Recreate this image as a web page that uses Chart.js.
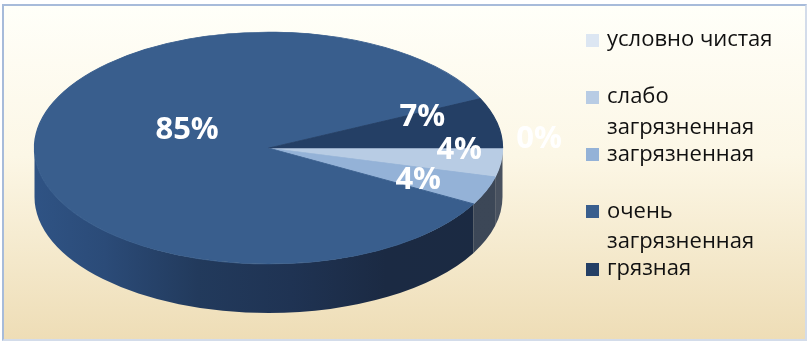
<!DOCTYPE html>
<html>
<head>
<meta charset="utf-8">
<script src="https://cdn.jsdelivr.net/npm/chart.js@4.4.0/dist/chart.umd.min.js"></script>
<style>
  body { margin: 0; background: #fff; width: 808px; height: 343px; overflow: hidden; }
  #frame {
    position: absolute; left: 2px; top: 4px; width: 801px; height: 333px;
    border-top: 2px solid #A7BBDA; border-left: 2px solid #A7BBDA;
    border-right: 2px solid #D3DCEA; border-bottom: 2px solid #D3DCEA;
    background: linear-gradient(to bottom, #FFFFF9 0%, #FCF7E6 45%, #EEDDB6 100%);
  }
  #chart { position: absolute; left: 0; top: 0; }
  #legend { position: absolute; left: 586px; top: 33.5px; font-family: 'Open Sans', sans-serif; font-size: 22px; color: #111; }
  .item { position: relative; height: 57.3px; }
  .box { position: absolute; left: 0; top: 0; width: 13px; height: 13px; }
  .txt { position: absolute; left: 21px; top: -11.5px; line-height: 30.6px; white-space: nowrap; }
</style>
</head>
<body>
<div id="frame"></div>
<canvas id="chart" width="808" height="343"></canvas>
<div id="legend"></div>
<script>
// ========================== DATA ==============================
const categories = ['условно чистая', 'слабо загрязненная', 'загрязненная', 'очень загрязненная', 'грязная'];
const legendLines = [['условно чистая'], ['слабо', 'загрязненная'], ['загрязненная'], ['очень', 'загрязненная'], ['грязная']];
const values = [0, 4, 4, 85, 7];

// ========================== STYLE =============================
const topColors = ['#DCE6F2', '#B8CCE4', '#94B2D7', '#395E8D', '#243F65'];
const sideStops = [
  [[0, '#4A5564'], [1, '#4A5564']],
  [[0, '#46505F'], [1, '#48515F']],
  [[0, '#3A4555'], [1, '#3C4757']],
  [[0, '#2F5384'], [0.15, '#2B4B78'], [0.35, '#223A5C'], [0.55, '#1F3353'], [0.75, '#1B2A43'], [1, '#1B2A42']],
  [[0, '#1B2B44'], [1, '#1B2B44']]
];
// angle nudge (deg) and radius fraction for each percent label
const labelPlace = [[-4.7, 1.16], [-7.2, 0.815], [0.4, 0.69], [24.5, 0.388], [-10.8, 0.716]];
const PIE = { cx: 268.5, cy: 148, rx: 234, ry: 116, depth: 49 };

// ========================== 3D PIE PLUGIN =====================
const pie3d = {
  id: 'pie3d',
  beforeDatasetsDraw(chart) {
    const ctx = chart.ctx;
    const arcs = chart.getDatasetMeta(0).data;
    const a0 = arcs[0];
    const sx = PIE.rx / a0.outerRadius, sy = PIE.ry / a0.outerRadius;
    ctx.save();
    ctx.translate(PIE.cx, PIE.cy);
    ctx.scale(sx, sy);
    ctx.translate(-a0.x, -a0.y);
    const d = PIE.depth / sy;
    arcs.forEach((arc, i) => {
      [0, 2 * Math.PI, -2 * Math.PI].forEach(shift => {
        const s = Math.max(arc.startAngle - shift, 0);
        const e = Math.min(arc.endAngle - shift, Math.PI);
        if (e <= s) return;
        const g = ctx.createLinearGradient(arc.x - arc.outerRadius, 0, arc.x + arc.outerRadius, 0);
        sideStops[i].forEach(([p, c]) => g.addColorStop(p, c));
        ctx.beginPath();
        ctx.arc(arc.x, arc.y, arc.outerRadius, s, e);
        ctx.arc(arc.x, arc.y + d, arc.outerRadius, e, s, true);
        ctx.closePath();
        ctx.fillStyle = g;
        ctx.fill();
      });
    });
  },
  afterDatasetsDraw(chart) {
    const ctx = chart.ctx;
    ctx.restore();
    const arcs = chart.getDatasetMeta(0).data;
    const total = values.reduce((a, b) => a + b, 0);
    ctx.save();
    ctx.font = 'bold 31px "Open Sans"';
    ctx.fillStyle = '#FFFFFF';
    ctx.textAlign = 'center';
    ctx.textBaseline = 'alphabetic';
    arcs.forEach((arc, i) => {
      const a = (arc.startAngle + arc.endAngle) / 2 + labelPlace[i][0] * Math.PI / 180;
      const f = labelPlace[i][1];
      const x = PIE.cx + PIE.rx * f * Math.cos(a);
      const y = PIE.cy + PIE.ry * f * Math.sin(a);
      ctx.fillText(Math.round(values[i] / total * 100) + '%', x, y + 11);
    });
    ctx.restore();
  }
};

// ========================== CHART =============================
new Chart(document.getElementById('chart'), {
  type: 'pie',
  data: {
    labels: categories,
    datasets: [{
      data: values,
      backgroundColor: topColors,
      borderColor: topColors,
      borderWidth: c => (c.raw ? 1 : 0),
      clip: false
    }]
  },
  options: {
    responsive: false,
    animation: false,
    rotation: 90,
    plugins: { legend: { display: false }, tooltip: { enabled: false } }
  },
  plugins: [pie3d]
});

// ========================== LEGEND ============================
const legend = document.getElementById('legend');
legendLines.forEach((lines, i) => {
  const item = document.createElement('div');
  item.className = 'item';
  item.innerHTML = `<div class="box" style="background:${topColors[i]}"></div><div class="txt">${lines.join('<br>')}</div>`;
  legend.appendChild(item);
});
</script>
</body>
</html>
